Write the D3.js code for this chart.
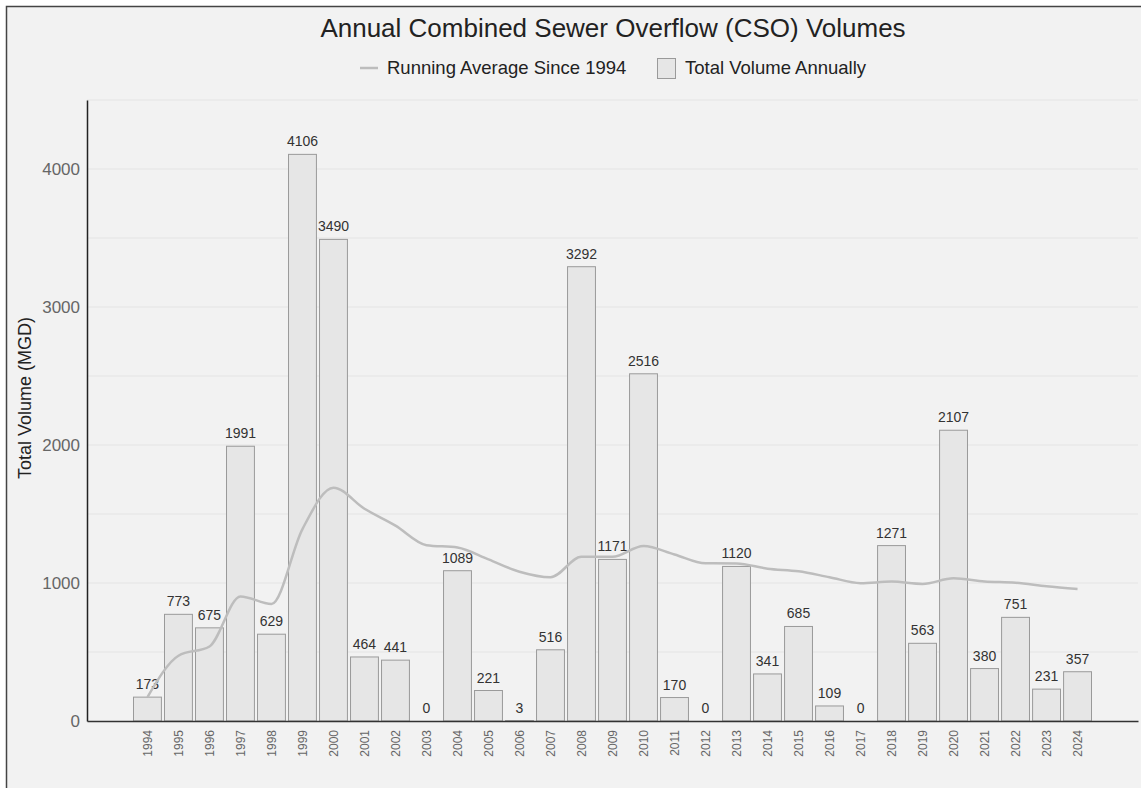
<!DOCTYPE html>
<html>
<head>
<meta charset="utf-8">
<script src="https://cdn.jsdelivr.net/npm/d3@7"></script>
<style>
  body { margin: 0; background: #fff; font-family: "Liberation Sans", Arial, sans-serif; }
</style>
</head>
<body>
<div id="chart"></div>
<script>
var years = ["1994","1995","1996","1997","1998","1999","2000","2001","2002","2003",
  "2004","2005","2006","2007","2008","2009","2010","2011","2012","2013",
  "2014","2015","2016","2017","2018","2019","2020","2021","2022","2023","2024"];
var totalVolume = [173, 773, 675, 1991, 629, 4106, 3490, 464, 441, 0,
  1089, 221, 3, 516, 3292, 1171, 2516, 170, 0, 1120,
  341, 685, 109, 0, 1271, 563, 2107, 380, 751, 231, 357];
// running average
var runningAvg = [173, 473, 540, 903, 848, 1391, 1691, 1538, 1416, 1274,
  1257, 1171, 1081, 1041, 1191, 1190, 1268, 1207, 1143, 1142,
  1104, 1085, 1042, 999, 1010, 993, 1034, 1011, 1002, 976, 956];
var yTicks = [0, 1000, 2000, 3000, 4000];

var svgWidth = 1141, svgHeight = 788;
var margin = { left: 87, right: 3, top: 100, bottom: 67 };
var width = svgWidth - margin.left - margin.right,
    height = svgHeight - margin.top - margin.bottom;

var svg = d3.select("#chart").append("svg")
  .attr("width", svgWidth)
  .attr("height", svgHeight);

// frame
svg.append("rect")
  .attr("x", 6.5).attr("y", 6.5)
  .attr("width", svgWidth).attr("height", svgHeight)
  .attr("fill", "#f2f2f2")
  .attr("stroke", "#444")
  .attr("stroke-width", 1.5);

var chartGroup = svg.append("g")
  .attr("transform", `translate(${margin.left}, ${margin.top})`);

var x = d3.scaleBand()
  .domain(years)
  .range([0, width])
  .paddingInner(0.1)
  .paddingOuter(1.5);

var y = d3.scaleLinear()
  .domain([0, 4500])
  .range([height, 0]);

// gridlines every 500
chartGroup.append("g")
  .selectAll("line")
  .data(d3.range(500, 4501, 500))
  .enter().append("line")
  .attr("x1", 0).attr("x2", width)
  .attr("y1", d => y(d)).attr("y2", d => y(d))
  .attr("stroke", "#e4e4e4")
  .attr("stroke-width", 1);

// bars
chartGroup.selectAll("rect.bar")
  .data(totalVolume)
  .enter().append("rect")
  .attr("class", "bar")
  .attr("x", (d, i) => x(years[i]))
  .attr("y", d => y(d))
  .attr("width", x.bandwidth())
  .attr("height", d => height - y(d))
  .attr("fill", "#e6e6e6")
  .attr("stroke", "#9a9a9a")
  .attr("stroke-width", 1);

// value labels
chartGroup.selectAll("text.val")
  .data(totalVolume)
  .enter().append("text")
  .attr("class", "val")
  .attr("x", (d, i) => x(years[i]) + x.bandwidth() / 2)
  .attr("y", d => y(d) - 8)
  .attr("text-anchor", "middle")
  .attr("font-size", "14px")
  .attr("fill", "#333")
  .text(d => d);

// running average line
var line = d3.line()
  .x((d, i) => x(years[i]) + x.bandwidth() / 2)
  .y(d => y(d))
  .curve(d3.curveMonotoneX);

chartGroup.append("path")
  .datum(runningAvg)
  .attr("d", line)
  .attr("fill", "none")
  .attr("stroke", "#bdbdbd")
  .attr("stroke-width", 2.5);

// axes
var leftAxis = d3.axisLeft(y).tickValues(yTicks).tickFormat(d3.format("d"))
  .tickSize(0).tickPadding(7);
var yAxisG = chartGroup.append("g").call(leftAxis);
yAxisG.select(".domain").attr("stroke", "#222").attr("stroke-width", 1.5);
yAxisG.selectAll("text").attr("font-size", "17px").attr("fill", "#666")
  .attr("font-family", "Liberation Sans, Arial, sans-serif");

var bottomAxis = d3.axisBottom(x).tickSize(0).tickPadding(9);
var xAxisG = chartGroup.append("g")
  .attr("transform", `translate(0, ${height})`)
  .call(bottomAxis);
xAxisG.select(".domain").attr("stroke", "#333").attr("stroke-width", 1.5);
xAxisG.selectAll("text")
  .attr("font-size", "12px")
  .attr("fill", "#666")
  .attr("font-family", "Liberation Sans, Arial, sans-serif")
  .attr("transform", "rotate(-90)")
  .attr("text-anchor", "end")
  .attr("x", -9)
  .attr("y", 0)
  .attr("dy", "0.35em");

// y axis label
svg.append("text")
  .attr("transform", "translate(31, 398) rotate(-90)")
  .attr("text-anchor", "middle")
  .attr("font-size", "18px")
  .attr("fill", "#222")
  .text("Total Volume (MGD)");

// title
svg.append("text")
  .attr("x", 613).attr("y", 37)
  .attr("text-anchor", "middle")
  .attr("font-size", "26px")
  .attr("fill", "#222")
  .text("Annual Combined Sewer Overflow (CSO) Volumes");

// legend
var legend = svg.append("g");
legend.append("line")
  .attr("x1", 360).attr("x2", 378).attr("y1", 68).attr("y2", 68)
  .attr("stroke", "#bdbdbd").attr("stroke-width", 2.5);
legend.append("text")
  .attr("x", 387).attr("y", 74)
  .attr("font-size", "18.5px").attr("fill", "#222")
  .text("Running Average Since 1994");
legend.append("rect")
  .attr("x", 657.5).attr("y", 58.5).attr("width", 18).attr("height", 20)
  .attr("fill", "#e6e6e6").attr("stroke", "#9a9a9a");
legend.append("text")
  .attr("x", 685).attr("y", 74)
  .attr("font-size", "18.5px").attr("fill", "#222")
  .text("Total Volume Annually");
</script>
</body>
</html>
